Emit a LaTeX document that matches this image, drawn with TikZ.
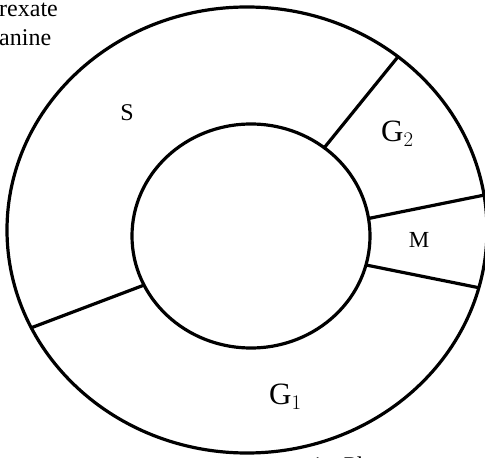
\documentclass[tikz,border=0pt]{standalone}
\usepackage{fontspec}
\setmainfont{Liberation Serif}
\usetikzlibrary{calc}
\begin{document}
\begin{tikzpicture}[x=1pt,y=1pt,
  ring/.style={line width=3.2pt},
  sep/.style={line width=3.2pt},
  lbl/.style={inner sep=0pt,font=\fontsize{24}{28}\selectfont},
  biglbl/.style={inner sep=0pt,font=\fontsize{31}{35}\selectfont},
  sidetxt/.style={inner sep=0pt,font=\fontsize{24}{28}\selectfont}]
\useasboundingbox (0,0) rectangle (485,458);
\coordinate (OC) at (247,228);
\coordinate (IC) at (251,222);
% rings
\draw[ring] (OC) ellipse [x radius=240, y radius=223];
\draw[ring] (IC) ellipse [x radius=119, y radius=112];
% separator end points
\coordinate (a1) at ($(IC)+(52:119 and 112)$);
\coordinate (a2) at ($(OC)+(51:240 and 223)$);
\coordinate (b1) at ($(IC)+(9:119 and 112)$);
\coordinate (b2) at ($(OC)+(9:240 and 223)$);
\coordinate (c1) at ($(IC)+(-15:119 and 112)$);
\coordinate (c2) at ($(OC)+(-15:240 and 223)$);
\coordinate (d1) at ($(IC)+(206:119 and 112)$);
\coordinate (d2) at ($(OC)+(206:240 and 223)$);
\draw[sep] (a1) -- (a2);
\draw[sep] (b1) -- (b2);
\draw[sep] (c1) -- (c2);
\draw[sep] (d1) -- (d2);
% labels
\node[lbl] (S) at (127,345) {S};
\node[biglbl,anchor=base west] (G2) at (381,316) {G$_2$};
\node[lbl,font=\fontsize{23}{27}\selectfont] (M) at (419,218) {M};
\node[biglbl,anchor=base west] (G1) at (269,53) {G$_1$};
\node[sidetxt,anchor=base west] (t1) at (-1,441) {rexate};
\node[sidetxt,anchor=base west] (t2) at (-1,412) {anine};
\node[sidetxt,anchor=base west] (t3) at (311,-16) {1:\hspace{14pt}Ph};
\end{tikzpicture}
\end{document}
